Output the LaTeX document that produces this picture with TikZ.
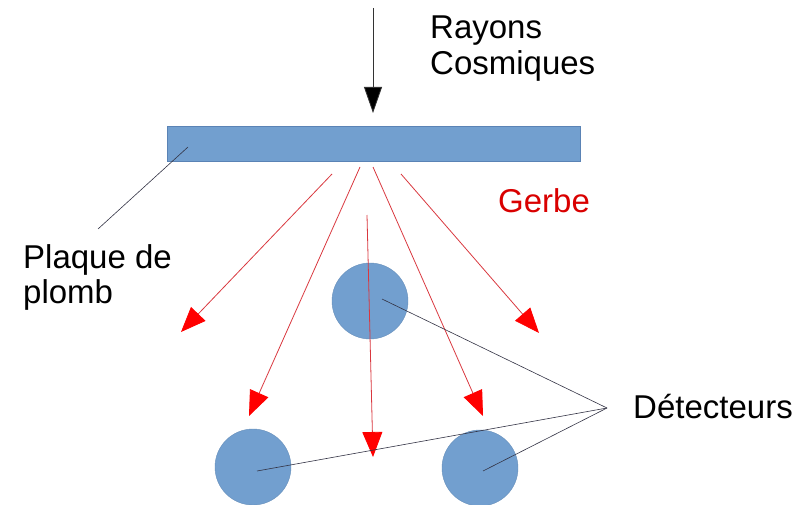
\documentclass[tikz,border=0pt]{standalone}
\usepackage{fontspec}
\setmainfont{Liberation Sans}
\usetikzlibrary{arrows.meta}
\definecolor{plateblue}{HTML}{729FCF}
\definecolor{plateedge}{HTML}{5A83B5}
\definecolor{showerred}{HTML}{FF0000}
\definecolor{lineshower}{HTML}{D9383F}
\definecolor{leader}{HTML}{333344}
\tikzset{
  lbl/.style={inner sep=0pt, font=\fontsize{33}{36}\selectfont, align=left},
  plate/.style={draw=plateedge, line width=0.6pt, fill=plateblue},
  detector/.style={circle, fill=plateblue, draw=plateblue!90!black, line width=0.4pt, minimum size=76pt, inner sep=0pt},
  shower/.style={draw=lineshower, line width=0.8pt, -{Triangle[length=25pt,width=20pt,fill=showerred,color=showerred]}},
  cosmic/.style={draw=black!80, line width=0.8pt, -{Triangle[length=26pt,width=18pt,fill=black]}},
  leaderline/.style={draw=leader, line width=0.6pt}
}
\begin{document}
\begin{tikzpicture}[x=1pt,y=-1pt]
\path[use as bounding box] (0,0) rectangle (802,505);
% plate
\node[plate, minimum width=413pt, minimum height=35pt, inner sep=0pt, anchor=north west] (plate) at (167,126) {};
% detectors
\node[detector] (d1) at (370,301) {};
\node[detector] (d2) at (253,467) {};
\node[detector] (d3) at (480,468) {};
% coordinates
\coordinate (ctop) at (373,8);
\coordinate (ctip) at (373,113);
\coordinate (s1) at (332,174); \coordinate (e1) at (181,332);
\coordinate (s2) at (360,167); \coordinate (e2) at (249,416);
\coordinate (s3) at (367,215); \coordinate (e3) at (373,457);
\coordinate (s4) at (373,167); \coordinate (e4) at (483,416);
\coordinate (s5) at (401,174); \coordinate (e5) at (539,333);
\coordinate (pin) at (188,147); \coordinate (pout) at (98,229);
\coordinate (k1) at (382,299);
\coordinate (k2) at (257,471);
\coordinate (k3) at (483,471);
\coordinate (hub) at (607,408);
% cosmic ray arrow
\draw[cosmic] (ctop) -- (ctip);
% shower arrows
\draw[shower] (s1) -- (e1);
\draw[shower] (s2) -- (e2);
\draw[shower] (s3) -- (e3);
\draw[shower] (s4) -- (e4);
\draw[shower] (s5) -- (e5);
% leader lines
\draw[leaderline] (pin) -- (pout);
\draw[leaderline] (k1) -- (hub);
\draw[leaderline] (k2) -- (hub);
\draw[leaderline] (k3) -- (hub);
% labels
\node[lbl, anchor=base west] (rayons) at (430,39) {Rayons};
\node[lbl, anchor=base west] (cosmiques) at (430,75) {Cosmiques};
\node[lbl, anchor=base west, text=showerred!85!black] (gerbe) at (498,212) {Gerbe};
\node[lbl, anchor=base west] (plaque) at (23,268) {Plaque de};
\node[lbl, anchor=base west] (plomb) at (23,303) {plomb};
\node[lbl, anchor=base west] (detect) at (633,418) {Détecteurs};
\end{tikzpicture}
\end{document}
